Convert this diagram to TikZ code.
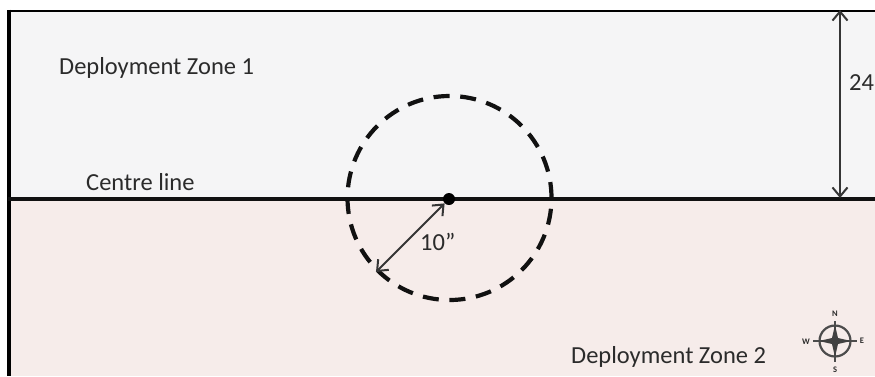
\documentclass[tikz,border=0pt]{standalone}
\usepackage{fontspec}
\setmainfont{Carlito}
\usetikzlibrary{arrows.meta}
\definecolor{zoneA}{HTML}{F5F5F6}
\definecolor{zoneB}{HTML}{F6ECEA}
\definecolor{ink}{HTML}{111111}
\definecolor{txt}{HTML}{2B2B2B}
\tikzset{
  lab/.style={font=\fontsize{24.5}{28}\selectfont, text=txt, inner sep=0pt, anchor=base west},
  dim/.style={draw=ink!85, line width=2pt, {Straight Barb[length=9pt,width=15pt]}-{Straight Barb[length=9pt,width=15pt]}},
  compass/.style={draw=ink!75, line width=1.6pt},
  clab/.style={font=\fontsize{8.5}{9}\selectfont\bfseries, text=txt, inner sep=0pt}
}
\begin{document}
\begin{tikzpicture}[x=1pt,y=-1pt]
\useasboundingbox (0,0) rectangle (875,376);
\clip (0,0) rectangle (875,376);
\fill[white] (0,0) rectangle (875,376);
\fill[zoneA] (8,10) rectangle (875,198);
\fill[zoneB] (8,198) rectangle (875,376);
\draw[black, line width=2pt] (875,10.5) -- (8,10.5);
\draw[black, line width=4pt] (8.5,9.5) -- (8.5,376);
\coordinate (cl) at (8,198.5);
\coordinate (cr) at (875,198.5);
\draw[ink, line width=4pt] (cl) -- (cr);
\node[circle, fill=black, minimum size=12pt, inner sep=0pt] (hub) at (449,199) {};
\node[circle, draw=ink, line width=4.2pt, dash pattern=on 16pt off 10.7pt, minimum size=204pt, inner sep=0pt] (ring) at (449.5,198) {};
\coordinate (rimpt) at (376,272);
\draw[dim] (rimpt) -- (hub);
\coordinate (topdim) at (840,10);
\coordinate (botdim) at (840,198);
\draw[dim] (topdim) -- (botdim);
\node[lab] (dz1) at (59,74) {Deployment Zone 1};
\node[lab] (cline) at (86,190) {Centre line};
\node[lab] (dz2) at (571,363) {Deployment Zone 2};
\node[lab] (ten) at (420,250) {10”};
\node[lab] (tf) at (849,90) {24};
\node[circle, draw=ink!75, line width=2.2pt, minimum size=31pt, inner sep=0pt] (comp) at (835,341) {};
\coordinate (cn) at (835,321);
\coordinate (cs) at (835,362);
\coordinate (cw) at (813,341);
\coordinate (ce) at (857,341);
\draw[compass] (cn) -- (cs);
\draw[compass] (cw) -- (ce);
\fill[ink!80] (835,325) -- (838,338) -- (851,341) -- (838,344) -- (835,357) -- (832,344) -- (819,341) -- (832,338) -- cycle;
\node[clab] (nn) at (835,314) {N};
\node[clab] (ns) at (835,370) {S};
\node[clab] (nw) at (806,342) {W};
\node[clab] (ne) at (862,341) {E};
\end{tikzpicture}
\end{document}
